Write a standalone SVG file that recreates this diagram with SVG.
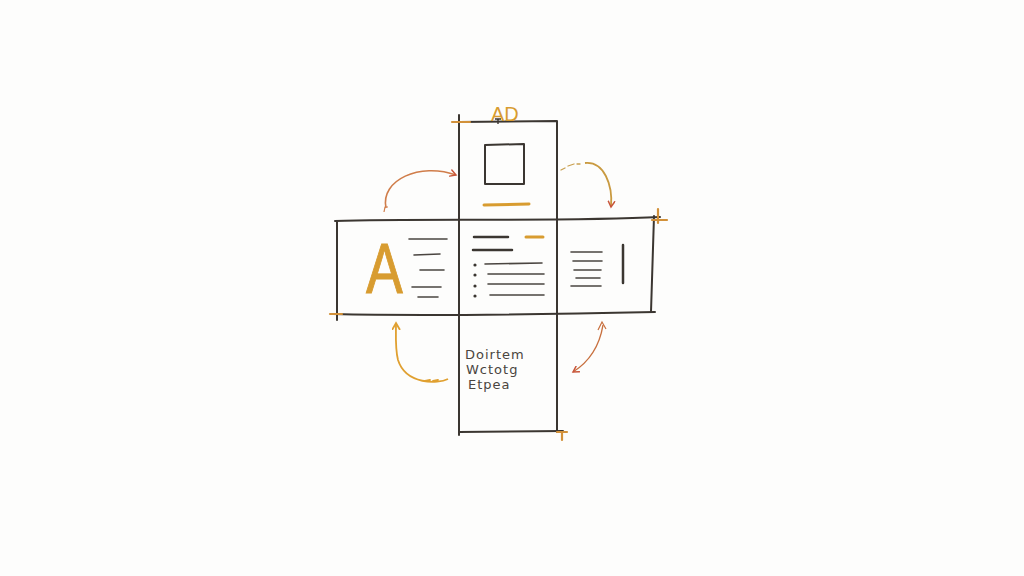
<svg xmlns="http://www.w3.org/2000/svg" width="1024" height="576" viewBox="0 0 1024 576">
<style>
.ink{fill:none;stroke:#3b3631;stroke-width:2;stroke-linecap:round;stroke-linejoin:round}
.thin{fill:none;stroke:#4a4540;stroke-width:1.6;stroke-linecap:round}
.gold{fill:none;stroke:#d89c30;stroke-width:3;stroke-linecap:round}
.tick{fill:none;stroke:#d2913a;stroke-width:2.2;stroke-linecap:round}
.txt{font-family:"DejaVu Sans","Liberation Sans",sans-serif;font-size:13px;letter-spacing:1px;fill:#4a4540}
</style>
<defs>
<marker id="hRed" viewBox="0 0 10 10" refX="8" refY="5" markerWidth="8" markerHeight="8" orient="auto" markerUnits="userSpaceOnUse"><polyline points="1,1 8,5 1,9" fill="none" stroke="#c8553a" stroke-width="1.8" stroke-linecap="round"/></marker>
<marker id="hGold" viewBox="0 0 10 10" refX="8" refY="5" markerWidth="9" markerHeight="9" orient="auto" markerUnits="userSpaceOnUse"><polyline points="1,1 8,5 1,9" fill="none" stroke="#e0a030" stroke-width="2" stroke-linecap="round"/></marker>
</defs>
<rect width="1024" height="576" fill="#fdfdfc"/>

<g id="connectors">
<path d="M386,208 C380,180 420,162 456,175" fill="none" stroke="#d07d4a" stroke-width="1.6" marker-end="url(#hRed)"/>
<path d="M384,212 l1,-5 l3,0" fill="none" stroke="#d07d4a" stroke-width="1.2"/>
<path d="M561,170 l4,-2 M568,166 l6,-2 M577,164 l3,0" fill="none" stroke="#c9a050" stroke-width="1.3" stroke-linecap="round"/>
<path d="M585,163 C604,161 613,185 611,207" fill="none" stroke="#c99a40" stroke-width="1.8" marker-end="url(#hRed)"/>
<path d="M448,379 C438,384 406,385 398,360 C395,348 396,335 396,323" fill="none" stroke="#e0a030" stroke-width="1.8" marker-end="url(#hGold)"/>
<path d="M425,381 l5,-1 M433,381 l5,-1" fill="none" stroke="#e0a030" stroke-width="1.8" stroke-linecap="round"/>
<path d="M603,325 C600,343 592,360 573,372" fill="none" stroke="#c8703f" stroke-width="1.4" marker-end="url(#hRed)"/>
<path d="M598,330 l4,-8 l4,7" fill="none" stroke="#c8703f" stroke-width="1.2"/>
</g>

<g id="top-panel">
<path class="ink" d="M459,115 L459,300"/>
<path class="ink" d="M459,122 L557,121 L557,218"/>
<path class="ink" d="M485,145 L524,144 L524,184 L485,184 Z"/>
<path class="gold" d="M484,205 L529,204"/>
<path class="tick" d="M452,122 L470,122"/>
<text x="491" y="121" font-family="'Liberation Sans',sans-serif" font-size="20" fill="#d89c30">AD</text>
<path d="M495,119 l6,0 M498,119 l0,5" stroke="#3b3631" stroke-width="1.4"/>
</g>

<g id="left-panel">
<path class="ink" d="M335,221 C420,218 560,222 660,217"/>
<path class="ink" d="M337,222 L337,320"/>
<path class="ink" d="M333,314 C420,316 560,314 655,312"/>
<path class="tick" d="M330,314 L342,314"/>
<text transform="translate(366,293) scale(0.95,1.2)" font-family="'Liberation Sans',sans-serif" font-size="58" fill="#d89c30" stroke="#d89c30" stroke-width="0.8">A</text>
<path class="thin" d="M409,239 L447,239 M414,255 L440,254 M420,270 L444,270 M412,287 L441,287 M418,297 L438,297"/>
</g>

<g id="middle-panel">
<path class="ink" d="M459,220 L459,435"/>
<path class="ink" d="M557,218 L557,432"/>
<path d="M474,237 L508,237 M473,250 L512,250" stroke="#3b3631" stroke-width="2.5" stroke-linecap="round"/>
<path class="gold" d="M526,237 L543,237"/>
<circle cx="475" cy="265" r="1.6" fill="#3b3631"/>
<circle cx="475" cy="275" r="1.6" fill="#3b3631"/>
<circle cx="475" cy="286" r="1.6" fill="#3b3631"/>
<circle cx="475" cy="296" r="1.6" fill="#3b3631"/>
<path class="thin" d="M485,264 L542,263 M488,274 L544,274 M488,284 L544,284 M490,295 L544,295"/>
</g>

<g id="right-panel">
<path class="ink" d="M654,216 L651,312"/>
<path class="tick" d="M658,209 L658,223 M652,220 L667,220"/>
<path class="thin" d="M571,252 L602,252 M573,261 L602,261 M574,270 L601,270 M576,278 L600,278 M571,286 L601,286"/>
<path d="M623,245 L623,283" stroke="#3b3631" stroke-width="2.5" stroke-linecap="round"/>
</g>

<g id="bottom-panel">
<path class="ink" d="M459,432 L563,431"/>
<path class="tick" d="M557,432 L567,432 M562,432 L562,440"/>
<text class="txt" x="465" y="359">Doirtem</text>
<text class="txt" x="466" y="374">Wctotg</text>
<text class="txt" x="468" y="389">Etpea</text>
</g>
</svg>
